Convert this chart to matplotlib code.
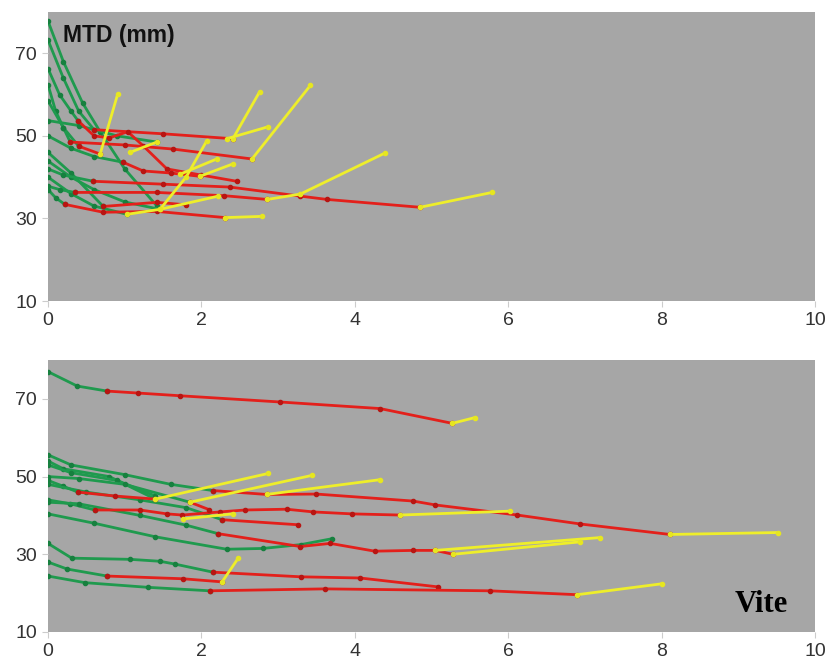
import matplotlib
matplotlib.use('Agg')
import matplotlib.pyplot as plt

# Top panel: green / red / yellow segments (x, y)
topGreen = [
    ([0, 0.2, 0.45, 0.68, 1.0, 1.42], [77.8, 68, 58, 51, 42, 33]),
    ([0, 0.2, 0.4, 0.6], [73.2, 64, 56, 51.5]),
    ([0, 0.15, 0.3, 0.39], [66.3, 60, 56, 53.7]),
    ([0, 0.1, 0.2, 0.29], [62.4, 56, 52, 48.5]),
    ([0, 0.2, 0.4], [58.5, 52, 47.5]),
    ([0, 0.4, 0.9, 1.42], [53.7, 52.5, 50, 48.5]),
    ([0, 0.3, 0.6, 0.98], [50, 47, 45, 43.6]),
    ([0, 0.3, 0.72], [46, 41, 32.9]),
    ([0, 0.3, 0.6, 1.0, 1.46], [43.9, 40, 37, 34, 32.2]),
    ([0, 0.2, 0.59], [42, 40.5, 39]),
    ([0, 0.3, 0.6, 1.03], [40, 36, 33, 31]),
    ([0, 0.15, 0.35], [37.8, 37, 36.3]),
    ([0, 0.1, 0.22], [37, 35, 33.4]),
]
topRed = [
    ([0.6, 1.5, 2.41], [51.5, 50.5, 49.3]),
    ([0.39, 0.6, 0.8, 1.04, 1.24, 1.55, 2.0, 2.46], [53.7, 50, 49.5, 51, 47.6, 42, 40.5, 39]),
    ([0.29, 1.0, 1.63, 2.66], [48.5, 47.8, 46.8, 44.4]),
    ([0.4, 0.68], [47.5, 45.6]),
    ([0.98, 1.24, 1.6, 1.98], [43.6, 41.5, 41, 40.2]),
    ([0.59, 1.5, 2.37, 3.29, 3.64, 4.85], [39, 38.3, 37.6, 35.4, 34.6, 32.7]),
    ([0.35, 1.42, 2.3, 2.86], [36.3, 36.3, 35.5, 34.6]),
    ([0.22, 0.72, 1.42, 2.31], [33.4, 31.5, 31.7, 30.2]),
    ([0.72, 1.42, 1.8], [32.9, 33.9, 33.3]),
]
topYellow = [
    ([2.41, 2.76], [49.3, 60.7]),
    ([2.33, 2.87], [49.3, 52.2]),
    ([2.66, 3.42], [44.4, 62.2]),
    ([0.68, 0.91], [45.6, 60.2]),
    ([1.98, 2.41], [40.2, 43.2]),
    ([1.72, 2.2], [40.7, 44.4]),
    ([1.46, 1.8, 2.07], [32.2, 40, 48.8]),
    ([1.07, 1.42], [46, 48.5]),
    ([4.85, 5.79], [32.7, 36.3]),
    ([2.86, 3.29, 4.4], [34.6, 35.9, 45.9]),
    ([2.31, 2.79], [30.2, 30.5]),
    ([1.03, 1.46, 2.22], [31, 32.2, 35.4]),
]

# Bottom panel
botGreen = [
    ([0, 0.38, 0.77], [77, 73.3, 72]),
    ([0, 0.3, 1.0, 1.6, 2.15], [55.6, 53, 50.5, 48, 46.4]),
    ([0, 0.2, 0.8, 1.4], [54, 52, 50, 44.2]),
    ([0, 0.3, 0.9, 1.4], [53, 51, 49, 45]),
    ([0, 0.4, 1.0, 1.85], [50, 49.5, 48, 43.4]),
    ([0, 0.2, 0.39], [49, 47.5, 46]),
    ([0, 0.5, 1.2, 1.8, 2.27], [48, 46, 44, 42, 38.9]),
    ([0, 0.29, 0.61], [44, 43, 41.4]),
    ([0, 0.4, 1.2, 1.8, 2.22], [43.4, 43, 40, 37.5, 35.3]),
    ([0, 0.6, 1.4, 2.33, 2.8, 3.3, 3.7], [40.4, 38, 34.5, 31.3, 31.5, 32.5, 34]),
    ([0, 0.31, 1.07, 1.46, 1.65, 2.15], [32.8, 29, 28.7, 28.2, 27.5, 25.4]),
    ([0, 0.25, 0.77], [28, 26.2, 24.4]),
    ([0, 0.48, 1.3, 2.11], [24.4, 22.7, 21.5, 20.6]),
]
botRed = [
    ([0.77, 1.17, 1.72, 3.02, 4.33, 5.27], [72, 71.5, 70.8, 69.2, 67.5, 63.7]),
    ([2.15, 2.85, 3.5, 4.76, 5.05, 6.12, 6.94, 8.11], [46.4, 45.4, 45.5, 43.7, 42.7, 40.1, 37.8, 35.1]),
    ([0.39, 0.87, 1.4], [46, 45, 44.2]),
    ([0.61, 1.2, 1.55, 1.75, 2.24, 2.57, 3.11, 3.46, 3.96, 4.59],
     [41.4, 41.4, 40.4, 40.1, 40.9, 41.4, 41.6, 40.9, 40.4, 40.1]),
    ([2.27, 3.26], [38.9, 37.6]),
    ([2.22, 3.29, 3.68, 4.26, 4.76, 5.05, 5.28], [35.3, 32, 32.8, 30.8, 31, 31, 30]),
    ([2.15, 3.3, 4.07, 5.09], [25.4, 24.2, 23.9, 21.6]),
    ([0.77, 1.76, 2.27], [24.4, 23.7, 22.9]),
    ([2.11, 3.61, 5.76, 6.9], [20.6, 21.1, 20.6, 19.6]),
    ([1.85, 2.1], [43.4, 41.5]),
]
botYellow = [
    ([5.27, 5.57], [63.7, 65.2]),
    ([8.11, 9.52], [35.1, 35.6]),
    ([1.4, 2.87], [44.2, 50.8]),
    ([1.85, 3.44], [43.4, 50.3]),
    ([2.85, 4.33], [45.4, 49.2]),
    ([1.76, 2.41], [39.1, 40.4]),
    ([4.59, 6.02], [40.1, 41.1]),
    ([5.05, 7.2], [31, 34.3]),
    ([5.28, 6.94], [30, 33.2]),
    ([2.27, 2.48], [22.9, 29]),
    ([6.9, 8.0], [19.6, 22.4]),
]

xTicks = [0, 2, 4, 6, 8, 10]
yTicks = [10, 30, 50, 70]

colors = {'green': '#1f9a4e', 'red': '#e3201b', 'yellow': '#eeee2a'}
markerEdge = {'green': '#17803f', 'red': '#b81512', 'yellow': '#e6e620'}

fig = plt.figure(figsize=(8.3, 6.66), dpi=100)
ax1 = fig.add_axes([48 / 830, 1 - 301 / 666, 767 / 830, 289 / 666])
ax2 = fig.add_axes([48 / 830, 1 - 632 / 666, 767 / 830, 272 / 666])

panels = [(ax1, topGreen, topRed, topYellow), (ax2, botGreen, botRed, botYellow)]
for ax, greens, reds, yellows in panels:
    ax.set_facecolor('#a6a6a6')
    for segs, key in ((greens, 'green'), (reds, 'red'), (yellows, 'yellow')):
        for xs, ys in segs:
            ax.plot(xs, ys, color=colors[key], linewidth=2.0, marker='o',
                    markersize=3.0, markerfacecolor=markerEdge[key],
                    markeredgecolor=markerEdge[key], solid_capstyle='round')
    ax.set_xlim(0, 10)
    ax.set_ylim(10, 80)
    ax.set_xticks(xTicks)
    ax.set_yticks(yTicks)
    for sp in ax.spines.values():
        sp.set_visible(False)
    ax.tick_params(colors='#cccccc', length=4, labelsize=14, labelcolor='#333333', pad=4)
    for lbl in ax.get_xticklabels() + ax.get_yticklabels():
        lbl.set_family('Liberation Sans')

ax1.text(0.02, 0.92, 'MTD (mm)', transform=ax1.transAxes, fontsize=16.5,
         fontweight='bold', family='Liberation Sans', color='#111111', va='center')
ax2.text(0.895, 0.1, 'Vite', transform=ax2.transAxes, fontsize=22,
         fontweight='bold', family='Liberation Serif', color='black', va='center')

fig.savefig('out.png', dpi=100)
